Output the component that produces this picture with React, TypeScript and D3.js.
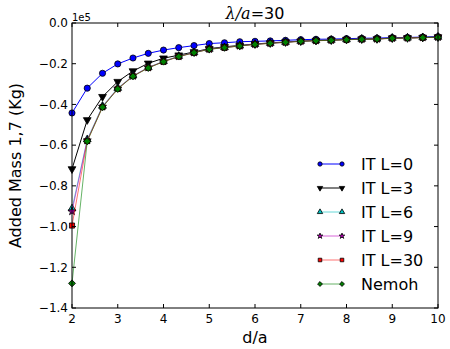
import React from "react";
import * as d3 from "d3";

const xValues = [2, 2.333, 2.667, 3, 3.333, 3.667, 4, 4.333, 4.667, 5, 5.333, 5.667, 6, 6.333, 6.667, 7, 7.333, 7.667, 8, 8.333, 8.667, 9, 9.333, 9.667, 10];
const itL0 = [-0.442, -0.320, -0.247, -0.201, -0.172, -0.149, -0.133, -0.121, -0.111, -0.101, -0.097, -0.092, -0.090, -0.088, -0.085, -0.082, -0.080, -0.079, -0.077, -0.075, -0.074, -0.072, -0.071, -0.069, -0.067];
const itL3 = [-0.717, -0.476, -0.362, -0.288, -0.236, -0.198, -0.173, -0.158, -0.142, -0.126, -0.117, -0.110, -0.103, -0.098, -0.093, -0.089, -0.086, -0.084, -0.081, -0.079, -0.078, -0.074, -0.073, -0.071, -0.069];
const itL6 = [-0.912, -0.572, -0.408, -0.320, -0.259, -0.218, -0.188, -0.163, -0.145, -0.128, -0.120, -0.112, -0.104, -0.099, -0.094, -0.089, -0.086, -0.084, -0.081, -0.079, -0.078, -0.074, -0.073, -0.071, -0.069];
const itL9 = [-0.925, -0.576, -0.411, -0.322, -0.260, -0.219, -0.189, -0.164, -0.145, -0.128, -0.120, -0.112, -0.104, -0.099, -0.094, -0.089, -0.086, -0.084, -0.081, -0.079, -0.078, -0.074, -0.073, -0.071, -0.069];
const itL30 = [-0.995, -0.580, -0.413, -0.323, -0.261, -0.220, -0.190, -0.165, -0.146, -0.129, -0.121, -0.113, -0.105, -0.100, -0.095, -0.090, -0.087, -0.085, -0.082, -0.080, -0.079, -0.075, -0.074, -0.072, -0.070];
const nemoh = [-1.279, -0.581, -0.414, -0.324, -0.262, -0.221, -0.190, -0.165, -0.146, -0.129, -0.121, -0.113, -0.105, -0.100, -0.095, -0.090, -0.087, -0.085, -0.082, -0.080, -0.079, -0.075, -0.074, -0.072, -0.070];

const seriesLabels = ["IT L=0", "IT L=3", "IT L=6", "IT L=9", "IT L=30", "Nemoh"];
const xTicks = [2, 3, 4, 5, 6, 7, 8, 9, 10];
const yTicks = [0, -0.2, -0.4, -0.6, -0.8, -1.0, -1.2, -1.4];

const W = 450, H = 349;
const M = { left: 72, right: 438, top: 23, bottom: 308 };
const FONT = "'DejaVu Sans', sans-serif";

type Style = { line: string; lineOpacity: number; fill: string; symbol: d3.SymbolType; size: number; rot: number };
const styles: Style[] = [
  { line: "#0000ff", lineOpacity: 1, fill: "#0000ff", symbol: d3.symbolCircle, size: 30, rot: 0 },
  { line: "#000000", lineOpacity: 1, fill: "#000000", symbol: d3.symbolTriangle, size: 26, rot: 180 },
  { line: "#00bfbf", lineOpacity: 0.6, fill: "#00bfbf", symbol: d3.symbolTriangle, size: 26, rot: 0 },
  { line: "#bf00bf", lineOpacity: 0.6, fill: "#bf00bf", symbol: d3.symbolStar, size: 20, rot: 0 },
  { line: "#ff0000", lineOpacity: 0.55, fill: "#ff0000", symbol: d3.symbolSquare, size: 26, rot: 0 },
  { line: "#008000", lineOpacity: 0.6, fill: "#008000", symbol: d3.symbolSquare, size: 24, rot: 45 },
];

export default function App() {
  const x = d3.scaleLinear().domain([2, 10]).range([M.left, M.right]);
  const y = d3.scaleLinear().domain([-1.4, 0]).range([M.bottom, M.top]);
  const allSeries = [itL0, itL3, itL6, itL9, itL30, nemoh];
  const line = d3.line<number>().x((_, i) => x(xValues[i])).y((d) => y(d));

  const marker = (s: Style, cx: number, cy: number, key: string, scale = 1) => {
    const path = d3.symbol().type(s.symbol).size(s.size * scale * scale)();
    return (
      <path key={key} d={path || ""} transform={`translate(${cx},${cy}) rotate(${s.rot})`}
        fill={s.fill} stroke="#000" strokeWidth={0.8} />
    );
  };

  const legendY0 = 164, legendDy = 24;

  return (
    <svg width={W} height={H} style={{ position: "absolute", left: 0, top: 0, display: "block", background: "#fff" }}>
      <defs>
        <clipPath id="plotclip">
          <rect x={M.left - 6} y={M.top - 6} width={M.right - M.left + 12} height={M.bottom - M.top + 12} />
        </clipPath>
      </defs>
      <g clipPath="url(#plotclip)">
        {allSeries.map((ser, si) => (
          <g key={si}>
            <path d={line(ser) || ""} fill="none" stroke={styles[si].line} strokeOpacity={styles[si].lineOpacity} strokeWidth={1} />
            {ser.map((v, i) => marker(styles[si], x(xValues[i]), y(v), `${si}-${i}`))}
          </g>
        ))}
      </g>
      <rect x={M.left} y={M.top} width={M.right - M.left} height={M.bottom - M.top} fill="none" stroke="#000" strokeWidth={1} />
      {xTicks.map((t) => (
        <g key={"xt" + t}>
          <line x1={x(t)} x2={x(t)} y1={M.bottom} y2={M.bottom - 4} stroke="#000" />
          <line x1={x(t)} x2={x(t)} y1={M.top} y2={M.top + 4} stroke="#000" />
          <text x={x(t)} y={323} textAnchor="middle" fontFamily={FONT} fontSize={12}>{t}</text>
        </g>
      ))}
      {yTicks.map((t) => (
        <g key={"yt" + t}>
          <line x1={M.left} x2={M.left + 4} y1={y(t)} y2={y(t)} stroke="#000" />
          <line x1={M.right} x2={M.right - 4} y1={y(t)} y2={y(t)} stroke="#000" />
          <text x={68} y={y(t) + 4.3} textAnchor="end" fontFamily={FONT} fontSize={12}>
            {t === 0 ? "0.0" : "\u2212" + Math.abs(t).toFixed(1)}
          </text>
        </g>
      ))}
      <text x={M.left} y={21} fontFamily={FONT} fontSize={10}>1e5</text>
      <text x={(M.left + M.right) / 2} y={19} textAnchor="middle" fontSize={16}>
        <tspan fontFamily="'DejaVu Serif', serif" fontStyle="italic">λ/a</tspan>
        <tspan fontFamily={FONT}>=30</tspan>
      </text>
      <text x={(M.left + M.right) / 2} y={343} textAnchor="middle" fontFamily={FONT} fontSize={16}>d/a</text>
      <text transform={`translate(21,${(M.top + M.bottom) / 2}) rotate(-90)`} textAnchor="middle" fontFamily={FONT} fontSize={16}>
        Added Mass 1,7 (Kg)
      </text>
      {seriesLabels.map((lab, i) => {
        const ly = legendY0 + i * legendDy;
        return (
          <g key={"lg" + i}>
            <line x1={320} x2={342} y1={ly} y2={ly} stroke={styles[i].line} strokeOpacity={styles[i].lineOpacity} strokeWidth={1} />
            {marker(styles[i], 320, ly, "lm1" + i, 0.7)}
            {marker(styles[i], 342, ly, "lm2" + i, 0.7)}
            <text x={361} y={ly + 5.5} fontFamily={FONT} fontSize={16}>{lab}</text>
          </g>
        );
      })}
    </svg>
  );
}
